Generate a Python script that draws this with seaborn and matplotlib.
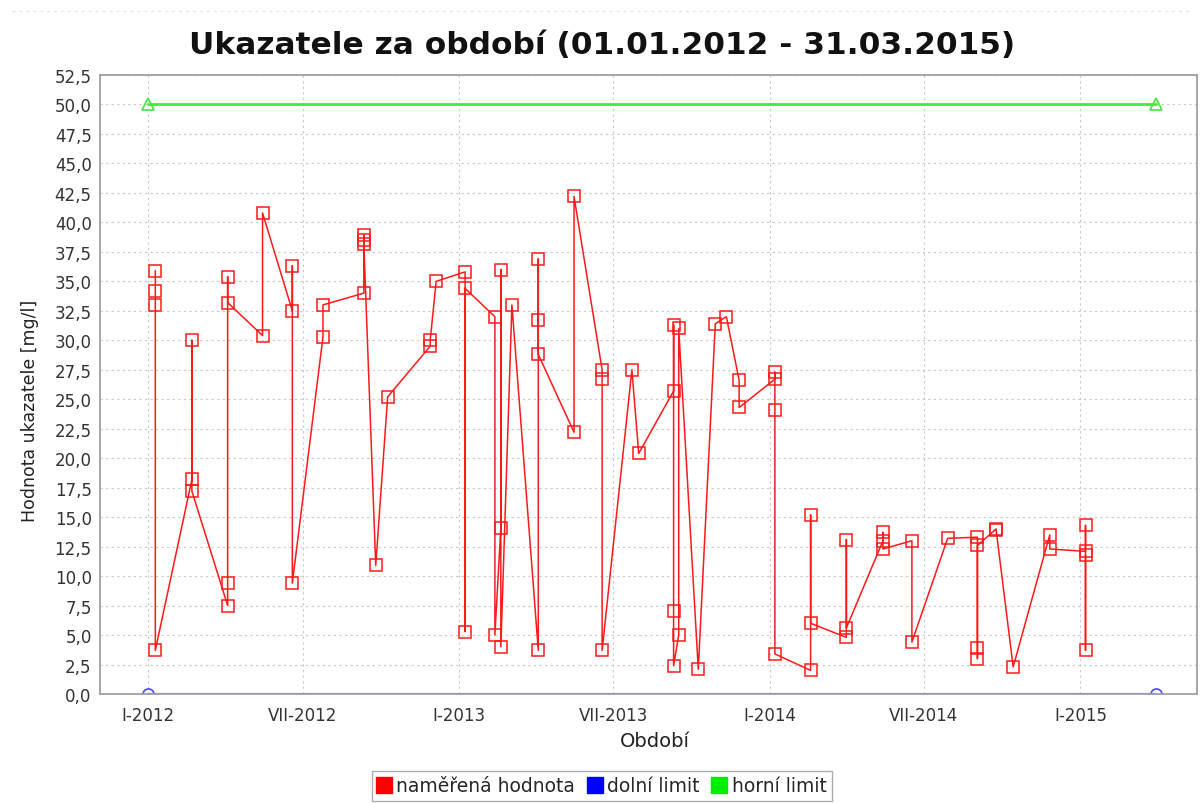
import pandas as pd
import matplotlib
matplotlib.use('Agg')
import matplotlib.pyplot as plt
import matplotlib.dates as mdates
from matplotlib.lines import Line2D
from matplotlib.ticker import FuncFormatter, MultipleLocator
import seaborn as sns

# measured values (same-day samples repeat the date)
sample_dates = [
    '2012-01-10', '2012-01-10', '2012-01-10', '2012-01-10',
    '2012-02-22', '2012-02-22', '2012-02-22',
    '2012-04-04', '2012-04-04', '2012-04-04', '2012-04-04',
    '2012-05-15', '2012-05-15',
    '2012-06-19', '2012-06-19', '2012-06-19',
    '2012-07-25', '2012-07-25',
    '2012-09-11', '2012-09-11', '2012-09-11', '2012-09-11',
    '2012-09-25',
    '2012-10-09',
    '2012-11-28', '2012-11-28',
    '2012-12-05',
    '2013-01-08', '2013-01-08', '2013-01-08',
    '2013-02-12', '2013-02-12',
    '2013-02-19', '2013-02-19', '2013-02-19',
    '2013-03-04',
    '2013-04-04', '2013-04-04', '2013-04-04', '2013-04-04',
    '2013-05-16', '2013-05-16',
    '2013-06-18', '2013-06-18', '2013-06-18',
    '2013-07-23',
    '2013-07-31',
    '2013-09-10', '2013-09-10', '2013-09-10', '2013-09-10',
    '2013-09-16', '2013-09-16',
    '2013-10-09',
    '2013-10-29',
    '2013-11-11',
    '2013-11-26', '2013-11-26',
    '2014-01-07', '2014-01-07', '2014-01-07', '2014-01-07',
    '2014-02-18', '2014-02-18', '2014-02-18',
    '2014-04-01', '2014-04-01', '2014-04-01',
    '2014-05-14', '2014-05-14', '2014-05-14',
    '2014-06-17', '2014-06-17',
    '2014-07-29',
    '2014-09-02', '2014-09-02', '2014-09-02', '2014-09-02',
    '2014-09-24', '2014-09-24',
    '2014-10-14',
    '2014-11-26', '2014-11-26',
    '2015-01-07', '2015-01-07', '2015-01-07', '2015-01-07',
]
sample_values = [
    35.9, 34.2, 33.0, 3.7,
    18.2, 30.0, 17.2,
    7.5, 9.4, 35.4, 33.2,
    30.4, 40.8,
    32.5, 36.3, 9.4,
    30.3, 33.0,
    34.0, 38.9, 38.5, 38.2,
    10.9,
    25.2,
    29.5, 30.0,
    35.0,
    35.8, 5.3, 34.4,
    32.0, 5.0,
    14.1, 36.0, 4.0,
    33.0,
    3.7, 36.9, 31.7, 28.8,
    22.2, 42.2,
    27.5, 26.7, 3.7,
    27.5,
    20.4,
    25.7, 31.3, 7.0, 2.4,
    5.0, 31.0,
    2.1,
    31.4,
    32.0,
    26.6, 24.3,
    26.7, 27.3, 24.1, 3.4,
    2.0, 15.2, 6.0,
    4.8, 13.1, 5.6,
    13.0, 13.7, 12.3,
    13.0, 4.4,
    13.2,
    13.3, 3.0, 3.9, 12.6,
    14.0, 13.9,
    2.3,
    13.5, 12.3,
    12.1, 14.3, 3.7, 11.8,
]

limit_dates = ['2012-01-01', '2015-03-31']
lower_limit = [0.0, 0.0]
upper_limit = [50.0, 50.0]

legend_labels = ['naměřená hodnota', 'dolní limit', 'horní limit']
roman = ['I', 'II', 'III', 'IV', 'V', 'VI', 'VII', 'VIII', 'IX', 'X', 'XI', 'XII']

measured = pd.DataFrame({'date': pd.to_datetime(sample_dates), 'value': sample_values})
limits = pd.DataFrame({'date': pd.to_datetime(limit_dates),
                       'lower': lower_limit, 'upper': upper_limit})

sns.set_theme(style='white')
plt.rcParams['font.family'] = ['DejaVu Sans']

fig = plt.figure(figsize=(12.04, 8.04), dpi=100)
ax = fig.add_axes([100 / 1204, 1 - 695 / 804, 1097 / 1204, 619 / 804])

red = '#ff1a1a'
blue = '#4a4aff'
green = '#44e844'

sns.lineplot(data=limits, x='date', y='upper', ax=ax, color=green, lw=2,
             marker='^', markersize=8, markerfacecolor='none',
             markeredgecolor=green, markeredgewidth=1.2)
sns.lineplot(data=limits, x='date', y='lower', ax=ax, color=blue, lw=1.5,
             marker='o', markersize=8, markerfacecolor='none',
             markeredgecolor=blue, markeredgewidth=1.2)
sns.lineplot(data=measured, x='date', y='value', ax=ax, estimator=None,
             sort=False, color=red, lw=1.1, marker='s', markersize=8,
             markerfacecolor='none', markeredgecolor=red, markeredgewidth=1.1)

ax.set_ylim(0, 52.5)
ax.set_xlim(pd.Timestamp('2011-11-06'), pd.Timestamp('2015-05-18'))
ax.yaxis.set_major_locator(MultipleLocator(2.5))
ax.yaxis.set_major_formatter(FuncFormatter(lambda v, p: f'{v:.1f}'.replace('.', ',')))
ax.xaxis.set_major_locator(mdates.MonthLocator(bymonth=[1, 7]))


def month_label(v, p):
    d = mdates.num2date(v)
    return f'{roman[d.month - 1]}-{d.year}'


ax.xaxis.set_major_formatter(FuncFormatter(month_label))

ax.grid(True, color='#c8c8c8', linestyle=(0, (2, 3)), lw=0.8)
for s in ax.spines.values():
    s.set_color('#a0a0a0')
    s.set_linewidth(1.3)
ax.tick_params(axis='both', which='major', direction='out', length=4, width=1,
               color='#a0a0a0', labelsize=12, labelcolor='#333333', pad=2)
ax.tick_params(axis='x', pad=5)
ax.set_xlabel('')
ax.set_ylabel('')

fig.text(0.5, 1 - 45 / 804, 'Ukazatele za období (01.01.2012 - 31.03.2015)',
         ha='center', va='center', fontsize=22.5, fontweight='bold', color='#111111')
fig.text(30 / 1204, 1 - 411 / 804, 'Hodnota ukazatele [mg/l]', rotation=90,
         ha='center', va='center', fontsize=12.5, color='#222222')
fig.text(655 / 1204, 1 - 742 / 804, 'Období', ha='center', va='center',
         fontsize=14, color='#222222')

handles = [Line2D([], [], marker='s', linestyle='none', markersize=11, color=c)
           for c in ['#ff0000', '#0000ff', '#00ee00']]
leg = fig.legend(handles, legend_labels, loc='center', ncol=3,
                 bbox_to_anchor=(0.5, 1 - 787 / 804), fontsize=13.5,
                 frameon=True, fancybox=False, edgecolor='#999999',
                 handlelength=0.7, handletextpad=0.3, columnspacing=0.7,
                 borderpad=0.3, borderaxespad=0)
leg.get_frame().set_linewidth(1.0)

fig.add_artist(Line2D([0.01, 0.99], [1 - 12 / 804, 1 - 12 / 804],
                      color='#e4e4e4', lw=1, linestyle=(0, (2, 3))))

fig.savefig('out.png', dpi=100)
